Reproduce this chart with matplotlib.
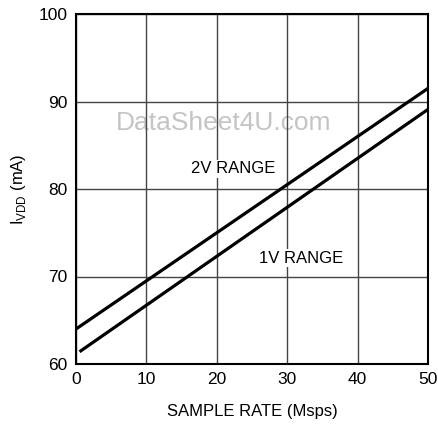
import matplotlib
matplotlib.use("Agg")
import matplotlib.pyplot as plt
from matplotlib import font_manager

names = {f.name for f in font_manager.fontManager.ttflist}
fam = ['Liberation Sans Narrow', 'DejaVu Sans'] if 'Liberation Sans Narrow' in names else ['Liberation Sans', 'DejaVu Sans']
plt.rcParams['font.family'] = fam

x_2v = [0, 50]
y_2v = [64.0, 91.5]
x_1v = [0.5, 50]
y_1v = [61.4, 89.1]
xticks = [0, 10, 20, 30, 40, 50]
yticks = [60, 70, 80, 90, 100]

fig = plt.figure(figsize=(4.39, 4.29), dpi=100)
ax = fig.add_axes([76/439, 1 - 364/429, (428-76)/439, (364-14)/429])
ax.set_xlim(0, 50)
ax.set_ylim(60, 100)
ax.set_xticks(xticks)
ax.set_yticks(yticks)
ax.set_axisbelow(True)
ax.grid(True, color='#444444', linewidth=1.0)
for s in ax.spines.values():
    s.set_linewidth(1.5)
    s.set_color('black')
ax.tick_params(length=0, pad=6, labelsize=12.5)

ax.text(20.9, 87.5, 'DataSheet4U.com', ha='center', va='center', fontsize=19,
        color='#c4c4c4', family=['Liberation Sans', 'DejaVu Sans'], zorder=0.1)

ax.plot(x_2v, y_2v, color='black', linewidth=2.3, solid_capstyle='butt', zorder=3)
ax.plot(x_1v, y_1v, color='black', linewidth=2.3, solid_capstyle='butt', zorder=3)

ax.text(22.3, 82.3, '2V RANGE', ha='center', va='center', fontsize=12,
        bbox=dict(facecolor='white', edgecolor='none', pad=1), zorder=4)
ax.text(32.0, 72.1, '1V RANGE', ha='center', va='center', fontsize=12,
        bbox=dict(facecolor='white', edgecolor='none', pad=1), zorder=4)

ax.set_xlabel('SAMPLE RATE (Msps)', fontsize=12, labelpad=12)
ax.set_ylabel('I$_{\\mathregular{VDD}}$ (mA)', fontsize=12, labelpad=8)

fig.savefig('out.png', dpi=100)
